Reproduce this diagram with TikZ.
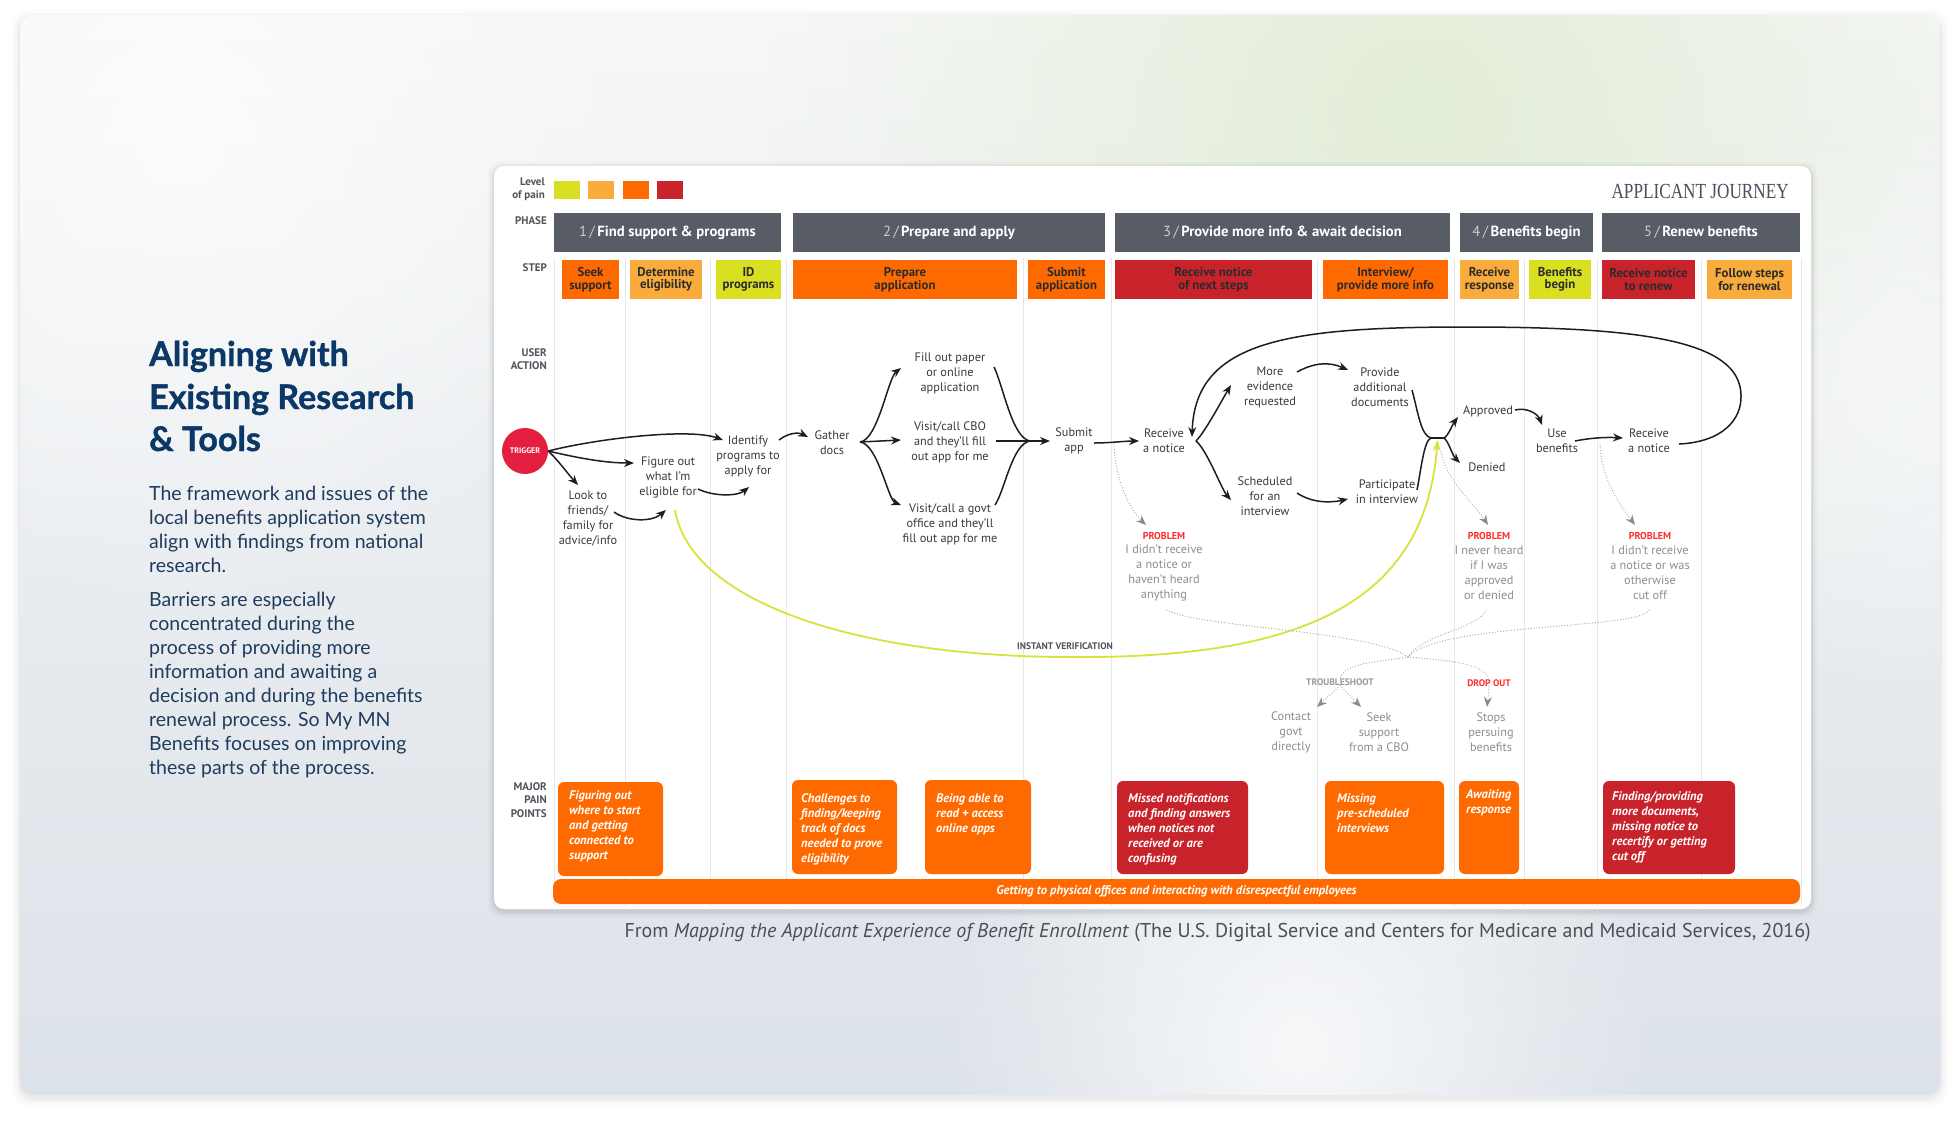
\documentclass[tikz,border=0pt]{standalone}
\usepackage{fontspec}
\setmainfont{PT Sans}
\newfontfamily\latofont{Lato}
\newfontfamily\latoheavy[BoldFeatures={FakeBold=1.2}]{Lato}
\newfontfamily\jserif{Liberation Serif}
\usetikzlibrary{arrows.meta,calc,fadings}
\definecolor{slate}{HTML}{575C65}
\definecolor{orangeP}{HTML}{FF6A00}
\definecolor{lorange}{HTML}{F9AC3B}
\definecolor{yellowP}{HTML}{D8E021}
\definecolor{redP}{HTML}{C8232B}
\definecolor{trigred}{HTML}{E41E3F}
\definecolor{acttext}{HTML}{3A3A3A}
\definecolor{steptext}{HTML}{2B2B2B}
\definecolor{lblgrey}{HTML}{4F545B}
\definecolor{probred}{HTML}{FF2B2B}
\definecolor{probgrey}{HTML}{8E8E8E}
\definecolor{dotgrey}{HTML}{ABABAB}
\definecolor{arrowgrey}{HTML}{8A8A8A}
\definecolor{yelline}{HTML}{D9E23A}
\definecolor{laneline}{HTML}{E8E8E8}
\definecolor{conncol}{HTML}{1E1E1E}
\definecolor{titleblue}{HTML}{0B3866}
\definecolor{bodyblue}{HTML}{1F3B5E}
\definecolor{capgrey}{HTML}{4A4F55}
\definecolor{journey}{HTML}{48505C}
\definecolor{phnum}{HTML}{C9CDD3}
\definecolor{bgtop}{HTML}{F6F7F7}
\definecolor{bgbot}{HTML}{DCE2E9}
\definecolor{bggreen}{HTML}{E3EED8}
\newcommand\fsz[2]{\fontsize{#1}{#2}\selectfont}
\tikzfading[name=glow, inner color=transparent!0, outer color=transparent!100]
\tikzset{
  act/.style={font=\fsz{12.3}{15}, text=acttext, align=center, inner sep=0pt},
  lbl/.style={font=\bfseries\fsz{11}{13.5}, text=lblgrey, align=right, inner sep=0pt, anchor=east},
  phasebar/.style={fill=slate, draw=none, inner sep=0pt, minimum height=39pt, text=white, font=\bfseries\fsz{14.7}{15}},
  stepbox/.style={draw=none, inner sep=0pt, minimum height=39pt, align=center, font=\bfseries\fsz{12.8}{12.5}, text=steptext},
  painbox/.style={rounded corners=6pt, inner sep=0pt, draw=none},
  paintext/.style={font=\bfseries\itshape\fsz{12.5}{15}, text=white, align=left, inner sep=0pt, anchor=north west},
  sq/.style={minimum width=26pt, minimum height=18pt, inner sep=0pt, draw=none},
  conn/.style={draw=conncol, line width=1.5pt, -{Stealth[length=10pt,width=8pt]}},
  plainline/.style={draw=conncol, line width=1.5pt},
  yel/.style={draw=yelline, line width=1.8pt, -{Stealth[length=11pt,width=8pt]}},
  dots/.style={draw=dotgrey, line width=1.3pt, line cap=round, dash pattern=on 0pt off 2.8pt},
  dotarrow/.style={dots, -{Stealth[length=10pt,width=8pt,color=arrowgrey]}},
  problab/.style={font=\bfseries\fsz{10}{12}, text=probred, inner sep=0pt},
  probtext/.style={font=\fsz{12.3}{15}, text=probgrey, align=center, inner sep=0pt},
  smallcap/.style={font=\bfseries\fsz{9.5}{11}, inner sep=0pt},
  titleline/.style={font=\latoheavy\bfseries\fsz{34}{43}, text=titleblue, anchor=base west, inner sep=0pt},
  bodyline/.style={font=\latofont\fsz{19.5}{24}, text=bodyblue, anchor=base west, inner sep=0pt}
}
\begin{document}
\begin{tikzpicture}[x=1pt,y=-1pt]
\useasboundingbox (0,0) rectangle (1960,1120);
\fill[white] (0,0) rectangle (1960,1120);
% outer card shadow
\foreach \i/\o in {8/0.015,5/0.025,2/0.04}{
  \fill[black,opacity=\o,rounded corners=16] (20-\i,15-\i+3) rectangle (1940+\i,1095+\i+3);
}
\begin{scope}
  \clip[rounded corners=14] (20,15) rectangle (1940,1095);
  \shade[top color=bgtop, bottom color=bgbot] (20,15) rectangle (1940,1095);
  \fill[bggreen, path fading=glow] (1420,110) circle (650);
  \fill[white, path fading=glow, opacity=0.75] (1300,1050) circle (360);
  \fill[white, path fading=glow, opacity=0.7] (180,140) circle (480);
  \fill[white, path fading=glow, opacity=0.5] (1900,400) circle (300);
\end{scope}
% left text
\node[titleline] (t1) at (149,366) {Aligning with};
\node[titleline] (t2) at (149,409) {Existing Research};
\node[titleline] (t3) at (149,451) {\& Tools};
\node[bodyline] (b1) at (149,500) {The framework and issues of the};
\node[bodyline] (b2) at (149,524) {local benefits application system};
\node[bodyline] (b3) at (149,548) {align with findings from national};
\node[bodyline] (b4) at (149,572) {research.};
\node[bodyline] (b5) at (149,606) {Barriers are especially};
\node[bodyline] (b6) at (149,630) {concentrated during the};
\node[bodyline] (b7) at (149,654) {process of providing more};
\node[bodyline] (b8) at (149,678) {information and awaiting a};
\node[bodyline] (b9) at (149,702) {decision and during the benefits};
\node[bodyline] (b10) at (149,726) {renewal process. So My MN};
\node[bodyline] (b11) at (149,750) {Benefits focuses on improving};
\node[bodyline] (b12) at (149,774) {these parts of the process.};
% caption
\node[font=\fsz{20}{22}, text=capgrey, anchor=base east, inner sep=0pt] (cap) at (1811,937)
  {From \textit{Mapping the Applicant Experience of Benefit Enrollment} (The U.S. Digital Service and Centers for Medicare and Medicaid Services, 2016)};
% diagram card
\foreach \i/\o in {6/0.02,4/0.03,2/0.05}{
  \fill[black,opacity=\o,rounded corners=12] (494-\i,166-\i+2) rectangle (1811+\i,909+\i+2);
}
\fill[white,rounded corners=10] (494,166) rectangle (1811,909);
% lane lines
\foreach \x in {554,625,710,786,1023,1111,1317,1454,1524,1597,1701,1801}{
  \draw[laneline, line width=1pt] (\x,258) -- (\x,906);
}
% row labels
\node[lbl] (lvl) at (545,189) {Level\\of pain};
\node[lbl] (lphase) at (547,221) {PHASE};
\node[lbl] (lstep) at (547,268) {STEP};
\node[lbl] (luser) at (547,359) {USER\\ACTION};
\node[lbl] (lmajor) at (547,800) {MAJOR\\PAIN\\POINTS};
% level squares
\node[sq, fill=yellowP] (sq1) at (567,190) {};
\node[sq, fill=lorange] (sq2) at (601,190) {};
\node[sq, fill=orangeP] (sq3) at (636,190) {};
\node[sq, fill=redP] (sq4) at (669.5,190) {};
\node[font=\jserif\fsz{21.5}{22}, text=journey, anchor=east, inner sep=0pt] (journey) at (1789,191) {\scalebox{0.8}[1]{APPLICANT JOURNEY}};
% phases
\node[phasebar, minimum width=227pt] (ph1) at (667.5,232.5) {{\mdseries\color{phnum}1\,/\,}Find support \& programs};
\node[phasebar, minimum width=312pt] (ph2) at (949,232.5) {{\mdseries\color{phnum}2\,/\,}Prepare and apply};
\node[phasebar, minimum width=335pt] (ph3) at (1282.5,232.5) {{\mdseries\color{phnum}3\,/\,}Provide more info \& await decision};
\node[phasebar, minimum width=133pt] (ph4) at (1526.5,232.5) {{\mdseries\color{phnum}4\,/\,}Benefits begin};
\node[phasebar, minimum width=198pt] (ph5) at (1701,232.5) {{\mdseries\color{phnum}5\,/\,}Renew benefits};
% steps
\node[stepbox, fill=orangeP, minimum width=57pt] (s1) at (590.5,279.5) {Seek\\support};
\node[stepbox, fill=lorange, minimum width=72pt] (s2) at (666,279.5) {Determine\\eligibility};
\node[stepbox, fill=yellowP, minimum width=65pt] (s3) at (748.5,279.5) {ID\\programs};
\node[stepbox, fill=orangeP, minimum width=224pt] (s4) at (905,279.5) {Prepare\\application};
\node[stepbox, fill=orangeP, minimum width=77pt] (s5) at (1066.5,279.5) {Submit\\application};
\node[stepbox, fill=redP, minimum width=197pt] (s6) at (1213.5,279.5) {Receive notice\\of next steps};
\node[stepbox, fill=orangeP, minimum width=125pt] (s7) at (1385.5,279.5) {Interview/\\provide more info};
\node[stepbox, fill=lorange, minimum width=59pt] (s8) at (1489.5,279.5) {Receive\\response};
\node[stepbox, fill=yellowP, minimum width=62pt] (s9) at (1560,279.5) {Benefits\\begin};
\node[stepbox, fill=redP, minimum width=93pt] (s10) at (1648.5,279.5) {Receive notice\\to renew};
\node[stepbox, fill=lorange, minimum width=85pt] (s11) at (1749.5,279.5) {Follow steps\\for renewal};
% trigger and actions
\node[circle, fill=trigred, minimum size=46pt, inner sep=0pt, text=white, font=\bfseries\fsz{8}{9}] (trig) at (525,451) {TRIGGER};
\node[act] (lookto) at (588,519) {Look to\\friends/\\family for\\advice/info};
\node[act] (figure) at (668,477) {Figure out\\what I'm\\eligible for};
\node[act] (ident) at (748,456) {Identify\\programs to\\apply for};
\node[act] (gather) at (832,443) {Gather\\docs};
\node[act] (fill) at (950,373) {Fill out paper\\or online\\application};
\node[act] (cbo) at (950,442) {Visit/call CBO\\and they'll fill\\out app for me};
\node[act] (govt) at (950,524) {Visit/call a govt\\office and they'll\\fill out app for me};
\node[act] (submit) at (1074,441) {Submit\\app};
\node[act] (recv1) at (1164,441) {Receive\\a notice};
\node[act] (more) at (1270,387) {More\\evidence\\requested};
\node[act] (provide) at (1380,387) {Provide\\additional\\documents};
\node[act] (sched) at (1265,496) {Scheduled\\for an\\interview};
\node[act] (partic) at (1387,492) {Participate\\in interview};
\node[act] (approved) at (1488,411) {Approved};
\node[act] (denied) at (1487,467) {Denied};
\node[act] (use) at (1557,441) {Use\\benefits};
\node[act] (recv2) at (1649,441) {Receive\\a notice};
% problems
\node[problab] (p1l) at (1164,536) {PROBLEM};
\node[probtext] (p1t) at (1164,573) {I didn't receive\\a notice or\\haven't heard\\anything};
\node[problab] (p2l) at (1489,536) {PROBLEM};
\node[probtext] (p2t) at (1489,573) {I never heard\\if I was\\approved\\or denied};
\node[problab] (p3l) at (1650,536) {PROBLEM};
\node[probtext] (p3t) at (1650,573) {I didn't receive\\a notice or was\\otherwise\\cut off};
\node[smallcap, text=probgrey!90] (trouble) at (1340,682) {TROUBLESHOOT};
\node[smallcap, text=probred] (drop) at (1489,683) {DROP OUT};
\node[probtext] (contact) at (1291,732) {Contact\\govt\\directly};
\node[probtext] (seek) at (1379,732) {Seek\\support\\from a CBO};
\node[probtext] (stops) at (1491,732) {Stops\\persuing\\benefits};
\node[smallcap, text=lblgrey] (instant) at (1065,646) {INSTANT VERIFICATION};
% connectors: phase 1-2
\draw[conn] (trig.east) .. controls (600,438) and (690,428) .. ($(ident.center)+(-25,-16)$);
\draw[conn] (trig.east) .. controls (578,458) and (605,463) .. ($(figure.center)+(-34,-14)$);
\draw[conn] (trig.east) .. controls (558,460) and (568,474) .. ($(lookto.center)+(-10,-34)$);
\draw[conn] ($(lookto.center)+(26,-7)$) .. controls (628,522) and (652,522) .. ($(figure.center)+(-2,33)$);
\draw[conn] ($(figure.center)+(30,12)$) .. controls (715,497) and (738,496) .. ($(ident.center)+(1,31)$);
\draw[conn] ($(ident.center)+(31,-16)$) .. controls (788,433) and (798,432) .. ($(gather.center)+(-24,-6)$);
\coordinate (gsplit) at ($(gather.center)+(28,-1)$);
\draw[conn] (gsplit) .. controls (878,440) and (888,378) .. ($(fill.center)+(-49,-5)$);
\draw[conn] (gsplit) -- ($(cbo.center)+(-49,-2)$);
\draw[conn] (gsplit) .. controls (878,444) and (888,500) .. ($(govt.center)+(-49,-19)$);
\coordinate (sm) at ($(submit.center)+(-44,0)$);
\draw[plainline] ($(fill.center)+(44,-6)$) .. controls (1003,385) and (1012,438) .. (sm);
\draw[plainline] ($(cbo.center)+(46,-1)$) -- (sm);
\draw[plainline] ($(govt.center)+(45,-19)$) .. controls (1005,490) and (1012,444) .. (sm);
\draw[conn] (sm) -- ($(submit.center)+(-24,0)$);
\draw[conn] ($(submit.center)+(20,2)$) .. controls (1110,443) and (1125,441) .. ($(recv1.center)+(-25,0)$);
% phase 3-5
\coordinate (rs) at ($(recv1.center)+(32,0)$);
\draw[conn] (rs) .. controls (1205,432) and (1222,400) .. ($(more.center)+(-39,-2)$);
\draw[conn] (rs) .. controls (1207,450) and (1222,490) .. ($(sched.center)+(-34,4)$);
\draw[conn] ($(recv2.center)+(30,3)$) .. controls (1722,442) and (1742,420) .. (1741,395)
   .. controls (1740,340) and (1640,327) .. (1467,327)
   .. controls (1290,327) and (1195,340) .. ($(recv1.center)+(28,-4)$);
\draw[conn] ($(more.center)+(27,-15)$) .. controls (1315,362) and (1330,362) .. ($(provide.center)+(-32,-17)$);
\draw[conn] ($(sched.center)+(32,-3)$) .. controls (1312,503) and (1330,503) .. ($(partic.center)+(-39,7)$);
\coordinate (mga) at (1431,438);
\coordinate (mgb) at (1444,438);
\draw[plainline] ($(provide.center)+(32,3)$) .. controls (1418,412) and (1421,436) .. (mga);
\draw[plainline] ($(partic.center)+(30,-2)$) .. controls (1421,470) and (1424,440) .. (mga);
\draw[plainline] (mga) -- (mgb);
\draw[conn] (mgb) .. controls (1449,435) and (1452,425) .. ($(approved.center)+(-30,6)$);
\draw[conn] (mgb) .. controls (1449,442) and (1452,455) .. ($(denied.center)+(-27,-4)$);
\draw[conn] ($(approved.center)+(27,-1)$) .. controls (1527,407) and (1538,414) .. ($(use.center)+(-15,-16)$);
\draw[conn] ($(use.center)+(18,0)$) .. controls (1590,438) and (1605,437) .. ($(recv2.center)+(-26,-3)$);
% instant verification
\draw[yel] ($(figure.center)+(7,33)$) .. controls (690,600) and (850,655) .. (1060,657)
   .. controls (1290,660) and (1425,610) .. ($(mga)!0.5!(mgb)+(0,2)$);
% dotted problem paths
\coordinate (d1s) at (1114,444);
\coordinate (d2s) at (1441,452);
\coordinate (d3s) at (1600,445);
\draw[dotarrow] (d1s) .. controls (1115,480) and (1130,510) .. ($(p1l.center)+(-18,-11)$);
\draw[dotarrow] (d2s) .. controls (1446,480) and (1475,505) .. ($(p2l.center)+(-1,-11)$);
\draw[dotarrow] (d3s) .. controls (1602,480) and (1620,505) .. ($(p3l.center)+(-15,-11)$);
\coordinate (cross) at (1408,657);
\draw[dots] ($(p1t.center)+(3,37)$) .. controls (1200,628) and (1370,630) .. (cross);
\draw[dots] ($(p2t.center)+(-3,37)$) .. controls (1480,628) and (1420,635) .. (cross);
\draw[dots] ($(p3t.center)+(-1,37)$) .. controls (1640,630) and (1440,622) .. (cross);
\draw[dots] (cross) .. controls (1380,662) and (1345,662) .. (trouble.north);
\draw[dotarrow] (trouble.south) -- ($(contact.center)+(26,-25)$);
\draw[dotarrow] (trouble.south) -- ($(seek.center)+(-18,-25)$);
\draw[dots] (cross) .. controls (1440,660) and (1485,662) .. (drop.north);
\draw[dotarrow] (drop.south) -- ($(stops.center)+(-4,-25)$);
% pain points
\node[painbox, fill=orangeP, minimum width=105pt, minimum height=94pt] (pp1) at (610.5,829) {};
\node[painbox, fill=orangeP, minimum width=105pt, minimum height=94pt] (pp2) at (844.5,827) {};
\node[painbox, fill=orangeP, minimum width=106pt, minimum height=94pt] (pp3) at (978,827) {};
\node[painbox, fill=redP, minimum width=131pt, minimum height=93pt] (pp4) at (1182.5,827.5) {};
\node[painbox, fill=orangeP, minimum width=119pt, minimum height=93pt] (pp5) at (1384.5,827.5) {};
\node[painbox, fill=orangeP, minimum width=60pt, minimum height=93pt] (pp6) at (1489,827.5) {};
\node[painbox, fill=redP, minimum width=132pt, minimum height=93pt] (pp7) at (1669,827.5) {};
\node[paintext] (pt1) at (569,790) {Figuring out\\where to start\\and getting\\connected to\\support};
\node[paintext] (pt2) at (801,793) {Challenges to\\finding/keeping\\track of docs\\needed to prove\\eligibility};
\node[paintext] (pt3) at (936,793) {Being able to\\read + access\\online apps};
\node[paintext] (pt4) at (1128,793) {Missed notifications\\and finding answers\\when notices not\\received or are\\confusing};
\node[paintext] (pt5) at (1337,793) {Missing\\pre-scheduled\\interviews};
\node[paintext] (pt6) at (1466,789) {Awaiting\\response};
\node[paintext] (pt7) at (1612,791) {Finding/providing\\more documents,\\missing notice to\\recertify or getting\\cut off};
\node[painbox, rounded corners=8pt, fill=orangeP, minimum width=1247pt, minimum height=25pt,
      font=\bfseries\itshape\fsz{12.5}{13}, text=white] (bar) at (1176.5,891.5)
      {Getting to physical offices and interacting with disrespectful employees};
\end{tikzpicture}
\end{document}
